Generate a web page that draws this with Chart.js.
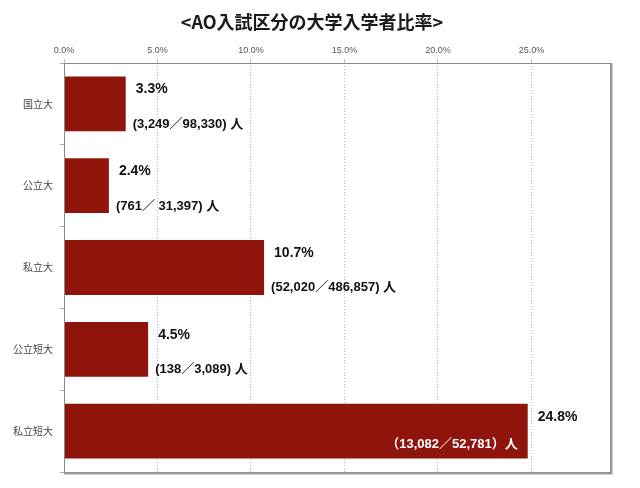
<!DOCTYPE html>
<html lang="ja">
<head>
  <meta charset="UTF-8" />
  <title>AO入試区分の大学入学者比率</title>
  <script src="https://cdn.jsdelivr.net/npm/chart.js"></script>
  <style>
    body { margin: 0; background: #ffffff; }
    .chart-box { width: 640px; height: 488px; }
  </style>
</head>
<body>

<div class="chart-box">
  <canvas id="aoChart"></canvas>
</div>

<script>
  // data
  const categories = ['国立大', '公立大', '私立大', '公立短大', '私立短大'];
  const rates = [3.3, 2.4, 10.7, 4.5, 24.8];
  const countLabels = [
    '(3,249／98,330) 人',
    '(761／ 31,397) 人',
    '(52,020／486,857) 人',
    '(138／3,089) 人',
    '（13,082／52,781）人'
  ];
  const tickStep = 5;
  const axisMax = 29.2;

  const titleText = '<AO入試区分の大学入学者比率>';
  const jpFont = '"Noto Sans CJK JP", "Liberation Sans", sans-serif';
  const numFont = '"Liberation Sans", "Noto Sans CJK JP", sans-serif';
  const barColor = '#8e140c';

  // title, frame and the labels next to each bar
  const decorPlugin = {
    id: 'decor',
    beforeDraw(chart) {
      const ctx = chart.ctx;
      ctx.save();
      ctx.font = 'bold 18px ' + jpFont;
      ctx.fillStyle = '#1a1a1a';
      ctx.textAlign = 'center';
      ctx.textBaseline = 'middle';
      ctx.fillText(titleText, 312, 22);
      ctx.restore();
    },
    afterDatasetsDraw(chart) {
      const ctx = chart.ctx;
      const area = chart.chartArea;
      const bars = chart.getDatasetMeta(0).data;
      ctx.save();
      bars.forEach((bar, i) => {
        const top = bar.y - bar.height / 2;
        const bottom = bar.y + bar.height / 2;
        ctx.textBaseline = 'middle';
        ctx.textAlign = 'left';
        ctx.fillStyle = '#111';
        ctx.font = 'bold 14px ' + numFont;
        ctx.fillText(rates[i].toFixed(1) + '%', bar.x + 10, top + 13);

        ctx.font = 'bold 13px ' + numFont;
        const w = ctx.measureText(countLabels[i]).width;
        if (bar.x + 8 + w > area.right) {
          ctx.textAlign = 'right';
          ctx.fillStyle = '#ffffff';
          ctx.fillText(countLabels[i], bar.x - 10, bottom - 14);
        } else {
          ctx.fillText(countLabels[i], bar.x + 7, bottom - 7);
        }
      });

      // frame round the plot
      ctx.strokeStyle = '#8a8a8a';
      ctx.lineWidth = 1;
      ctx.strokeRect(area.left + 0.5, area.top + 0.5, area.width, area.height);
      ctx.strokeStyle = '#9a9a9a';
      ctx.lineWidth = 2;
      ctx.beginPath();
      ctx.moveTo(area.right + 1.5, area.top);
      ctx.lineTo(area.right + 1.5, area.bottom + 1.5);
      ctx.lineTo(area.left, area.bottom + 1.5);
      ctx.stroke();
      ctx.restore();
    }
  };

  new Chart(document.getElementById('aoChart'), {
    type: 'bar',
    data: {
      labels: categories,
      datasets: [{
        data: rates,
        backgroundColor: barColor,
        borderWidth: 0,
        categoryPercentage: 0.67,
        barPercentage: 1.0
      }]
    },
    options: {
      indexAxis: 'y',
      responsive: true,
      maintainAspectRatio: false,
      animation: false,
      layout: { padding: { left: 0, right: 30, top: 0, bottom: 16 } },
      plugins: {
        legend: { display: false },
        title: { display: false },
        tooltip: { enabled: false }
      },
      scales: {
        x: {
          position: 'top',
          min: 0,
          max: axisMax,
          afterFit(scale) { scale.height = 63; },
          afterBuildTicks(scale) {
            scale.ticks = scale.ticks.filter(t => Math.abs(t.value % tickStep) < 1e-6);
          },
          ticks: {
            stepSize: tickStep,
            color: '#555',
            font: { size: 9, family: '"Liberation Sans", sans-serif' },
            padding: 3,
            callback: v => v.toFixed(1) + '%'
          },
          grid: {
            color: '#b5b5b5',
            tickLength: 4,
            tickColor: '#bbbbbb'
          },
          border: { display: false, dash: [1, 2] }
        },
        y: {
          afterFit(scale) { scale.width = 64; },
          ticks: {
            color: '#444',
            font: { size: 10, family: jpFont },
            padding: 7
          },
          grid: {
            offset: true,
            drawOnChartArea: false,
            tickLength: 4,
            tickColor: '#aaaaaa'
          },
          border: { display: false }
        }
      }
    },
    plugins: [decorPlugin]
  });
</script>

</body>
</html>
